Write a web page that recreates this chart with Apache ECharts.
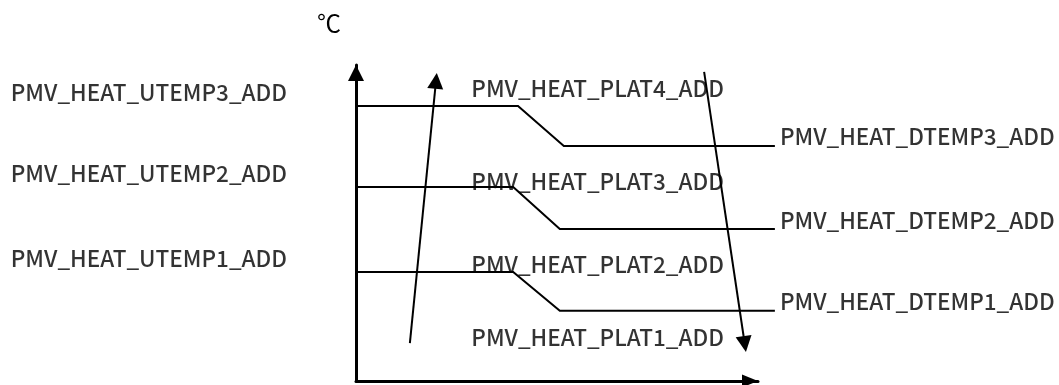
<!DOCTYPE html>
<html>
<head>
<meta charset="utf-8">
<title>PMV heat temperature steps</title>
<script src="https://cdn.jsdelivr.net/npm/echarts@6/dist/echarts.min.js"></script>
<style>
    html, body { margin: 0; padding: 0; background: #fff; }
    #main { width: 1059px; height: 385px; }
</style>
</head>
<body>
<div id="main"></div>
<script>
// 左侧（升温）三个台阶的高度
const upLevels = [34.5, 61.4, 87.0];
// 右侧（降温）三个台阶的高度
const downLevels = [22.2, 48.1, 74.4];
// 每条折线开始下降 / 结束下降的位置
const dropStart = [39.1, 39.1, 40.3];
const dropEnd = [50.7, 50.7, 51.7];
// 折线右端
const lineEnd = 104.2;

const upNames = ['PMV_HEAT_UTEMP1_ADD', 'PMV_HEAT_UTEMP2_ADD', 'PMV_HEAT_UTEMP3_ADD'];
const downNames = ['PMV_HEAT_DTEMP1_ADD', 'PMV_HEAT_DTEMP2_ADD', 'PMV_HEAT_DTEMP3_ADD'];
const platNames = ['PMV_HEAT_PLAT1_ADD', 'PMV_HEAT_PLAT2_ADD', 'PMV_HEAT_PLAT3_ADD', 'PMV_HEAT_PLAT4_ADD'];
const platLevels = [13.9, 37.0, 63.3, 92.7];
const platX = 60.1;

// 两条斜箭头：起点 -> 箭头尖
const riseArrow = [[13.4, 12.0], [20.1, 97.5]];
const fallArrow = [[86.6, 97.8], [97.0, 9.2]];

const FONT = "'Noto Sans CJK KR', 'Noto Sans', sans-serif";
const HEAD = 16; // 箭头长度（像素）

const myChart = echarts.init(document.getElementById('main'));

// 三条台阶折线（lines 系列可以画出坐标轴范围之外）
const getStepData = () => {
    return upLevels.map((lv, i) => ({
        coords: [
            [0, lv],
            [dropStart[i], lv],
            [dropEnd[i], downLevels[i]],
            [lineEnd, downLevels[i]]
        ]
    }));
};

const labelStyle = {
    show: true,
    color: '#000',
    fontFamily: FONT,
    fontWeight: 500,
    fontSize: 22.5,
    formatter: (p) => p.name
};

const axisCommon = {
    type: 'value',
    min: 0,
    max: 100,
    axisTick: { show: false },
    axisLabel: { show: false },
    splitLine: { show: false }
};

const option = {
    animation: false,
    grid: { left: 356, right: 301, top: 65, bottom: 4 },
    xAxis: {
        ...axisCommon,
        axisLine: {
            show: true,
            symbol: ['none', 'triangle'],
            symbolSize: [13, HEAD],
            symbolOffset: [0, -HEAD / 2],
            lineStyle: { color: '#000', width: 3 }
        }
    },
    yAxis: {
        ...axisCommon,
        name: '℃',
        nameLocation: 'end',
        nameGap: 42,
        nameTextStyle: {
            color: '#000',
            fontFamily: "'Noto Sans CJK KR', serif",
            fontSize: 24,
            verticalAlign: 'middle',
            padding: [0, 54, 0, 0]
        },
        axisLine: {
            show: true,
            symbol: ['none', 'triangle'],
            symbolSize: [16, HEAD],
            symbolOffset: [0, -HEAD / 2],
            lineStyle: { color: '#000', width: 3 }
        }
    },
    series: [
        {
            type: 'lines',
            coordinateSystem: 'cartesian2d',
            polyline: true,
            clip: false,
            silent: true,
            lineStyle: { color: '#000', width: 2, opacity: 1 },
            data: getStepData()
        },
        // 斜箭头
        {
            type: 'lines',
            coordinateSystem: 'cartesian2d',
            clip: false,
            silent: true,
            symbol: ['none', 'triangle'],
            symbolSize: [15, HEAD],
            lineStyle: { color: '#000', width: 2, opacity: 1, curveness: 0 },
            data: [{ coords: riseArrow }, { coords: fallArrow }]
        },
        // 左侧文字
        {
            type: 'scatter',
            symbolSize: 0,
            clip: false,
            silent: true,
            label: { ...labelStyle, position: 'left', distance: 69, offset: [0, -14] },
            data: upLevels.map((lv, i) => ({ name: upNames[i], value: [0, lv] }))
        },
        // 右侧文字
        {
            type: 'scatter',
            symbolSize: 0,
            clip: false,
            silent: true,
            label: { ...labelStyle, position: 'right', distance: 5, offset: [0, -9] },
            data: downLevels.map((lv, i) => ({ name: downNames[i], value: [lineEnd, lv] }))
        },
        // 中间文字
        {
            type: 'scatter',
            symbolSize: 0,
            clip: false,
            silent: true,
            label: { ...labelStyle, position: 'inside' },
            data: platLevels.map((lv, i) => ({ name: platNames[i], value: [platX, lv] }))
        }
    ]
};

myChart.setOption(option);

// 三角形是以端点为中心画的，把线段终点往回缩半个箭头，让箭头尖正好落在数据点上
const pullBack = (seg) => {
    const a = myChart.convertToPixel({ gridIndex: 0 }, seg[0]);
    const b = myChart.convertToPixel({ gridIndex: 0 }, seg[1]);
    const len = Math.hypot(b[0] - a[0], b[1] - a[1]);
    const k = (HEAD / 2) / len;
    const end = [b[0] - (b[0] - a[0]) * k, b[1] - (b[1] - a[1]) * k];
    return { coords: [seg[0], myChart.convertFromPixel({ gridIndex: 0 }, end)] };
};

myChart.setOption({
    series: [{}, { data: [pullBack(riseArrow), pullBack(fallArrow)] }]
});
</script>
</body>
</html>
